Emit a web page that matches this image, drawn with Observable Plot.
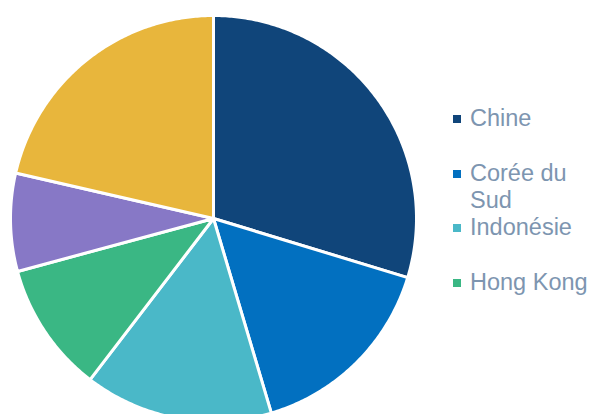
<!DOCTYPE html>
<html>
<head>
<meta charset="utf-8">
<script src="https://cdn.jsdelivr.net/npm/d3@7"></script>
<script src="https://cdn.jsdelivr.net/npm/@observablehq/plot@0.6"></script>
<style>
  html, body { margin: 0; padding: 0; overflow: hidden; background: #fff; }
  #wrap { position: relative; width: 590px; height: 414px; overflow: hidden; font-family: "Liberation Sans", Arial, sans-serif; }
  #chart { position: absolute; left: 0; top: 0; }
  .item { position: absolute; left: 453px; width: 137px; }
  .swatch { position: absolute; left: 0; width: 8px; height: 8px; }
  .label { position: absolute; left: 17px; width: 120px; font-size: 23.5px; line-height: 27px; color: #7d95b0; }
</style>
</head>
<body>
<div id="wrap">
  <div id="chart"></div>
  <div id="legend"></div>
</div>
<script>
const categories = ["Chine", "Corée du Sud", "Indonésie", "Hong Kong", "Taïwan", "Autres"];
const values = [29.7, 15.7, 15.0, 10.4, 7.8, 21.4];
const colors = ["#10457a", "#0270c0", "#4ab8c8", "#3ab784", "#8778c6", "#e8b63c"];
const legendCategories = categories.slice(0, 4);

const arcs = d3.pie().sort(null).value(d => d)(values);
const features = arcs.map((a, i) => {
  const ring = [[0, 0]];
  const n = Math.max(2, Math.ceil((a.endAngle - a.startAngle) / 0.01));
  for (let k = 0; k <= n; k++) {
    const t = a.startAngle + (a.endAngle - a.startAngle) * k / n;
    ring.push([Math.sin(t), -Math.cos(t)]);
  }
  ring.push([0, 0]);
  return {type: "Feature", properties: {name: categories[i]}, geometry: {type: "Polygon", coordinates: [ring]}};
});

const chart = Plot.plot({
  width: 416,
  height: 421,
  marginLeft: 10,
  marginTop: 15,
  marginRight: 0,
  marginBottom: 0,
  projection: {type: "identity", domain: {type: "MultiPoint", coordinates: [[-1, -1], [1, 1]]}},
  color: {domain: categories, range: colors},
  marks: [
    Plot.geo(features, {fill: d => d.properties.name, stroke: "white", strokeWidth: 3, strokeLinejoin: "round"})
  ]
});
document.getElementById("chart").appendChild(chart);

const slotTops = [105, 160, 214, 269];
const legend = document.getElementById("legend");
legendCategories.forEach((c, i) => {
  const item = document.createElement("div");
  item.className = "item";
  item.style.top = slotTops[i] + "px";
  const sw = document.createElement("div");
  sw.className = "swatch";
  sw.style.top = "10px";
  sw.style.background = colors[categories.indexOf(c)];
  const lb = document.createElement("div");
  lb.className = "label";
  lb.textContent = c;
  item.appendChild(sw);
  item.appendChild(lb);
  legend.appendChild(item);
});
</script>
</body>
</html>
